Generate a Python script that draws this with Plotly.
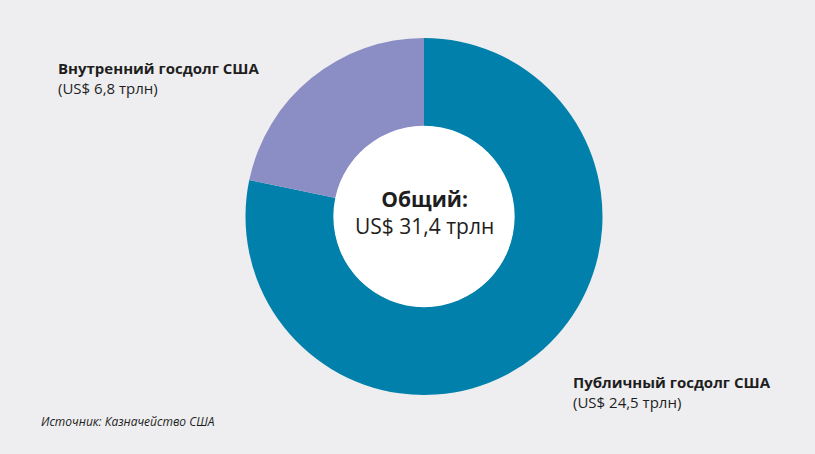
import plotly.graph_objects as go

categories = ["Публичный госдолг США", "Внутренний госдолг США"]
values = [24.5, 6.8]
value_labels = ["(US$ 24,5 трлн)", "(US$ 6,8 трлн)"]
colors = ["#0080AB", "#8A8EC4"]
total_value = 31.4
total_label = "US$ 31,4 трлн"

W, H = 815, 454
BG = "#EEEEF0"
TXT = "#1e1e1e"
FONT = "Open Sans"

cx, cy, r = 424, 216.5, 178.5
hole = 0.505
rh = r * hole


def dom(rad):
    return dict(x=[(cx - rad) / W, (cx + rad) / W], y=[1 - (cy + rad) / H, 1 - (cy - rad) / H])


fig = go.Figure()
fig.add_trace(go.Pie(
    labels=categories,
    values=values,
    sort=False,
    direction="clockwise",
    rotation=0,
    hole=hole,
    marker=dict(colors=colors, line=dict(width=0)),
    textinfo="none",
    hoverinfo="none",
    showlegend=False,
    domain=dom(r),
))
# white centre disc
fig.add_trace(go.Pie(
    labels=["Общий"],
    values=[total_value],
    marker=dict(colors=["#FFFFFF"], line=dict(width=0)),
    textinfo="none",
    hoverinfo="none",
    showlegend=False,
    domain=dom(rh + 0.5),
))


def px(x):
    return x / W


def py(y):
    return 1 - y / H


annotations = [
    dict(x=px(56), y=py(78.5), xanchor="left", yanchor="middle", align="left",
         text=f"<b>{categories[1]}</b><br>{value_labels[1]}",
         font=dict(size=15, color=TXT, family=FONT)),
    dict(x=px(571), y=py(392), xanchor="left", yanchor="middle", align="left",
         text=f"<b>{categories[0]}</b><br>{value_labels[0]}",
         font=dict(size=15, color=TXT, family=FONT)),
    dict(x=px(cx), y=py(212), xanchor="center", yanchor="middle", align="center",
         text=f"<b>Общий:</b><br>{total_label}",
         font=dict(size=21, color=TXT, family=FONT)),
    dict(x=px(39), y=py(421), xanchor="left", yanchor="middle", align="left",
         text="<i>Источник: Казначейство США</i>",
         font=dict(size=12, color=TXT, family=FONT)),
]
for a in annotations:
    a.update(xref="paper", yref="paper", showarrow=False)

fig.update_layout(
    width=W, height=H,
    margin=dict(l=0, r=0, t=0, b=0),
    paper_bgcolor=BG, plot_bgcolor=BG,
    annotations=annotations,
)

fig.write_html("out.html")
